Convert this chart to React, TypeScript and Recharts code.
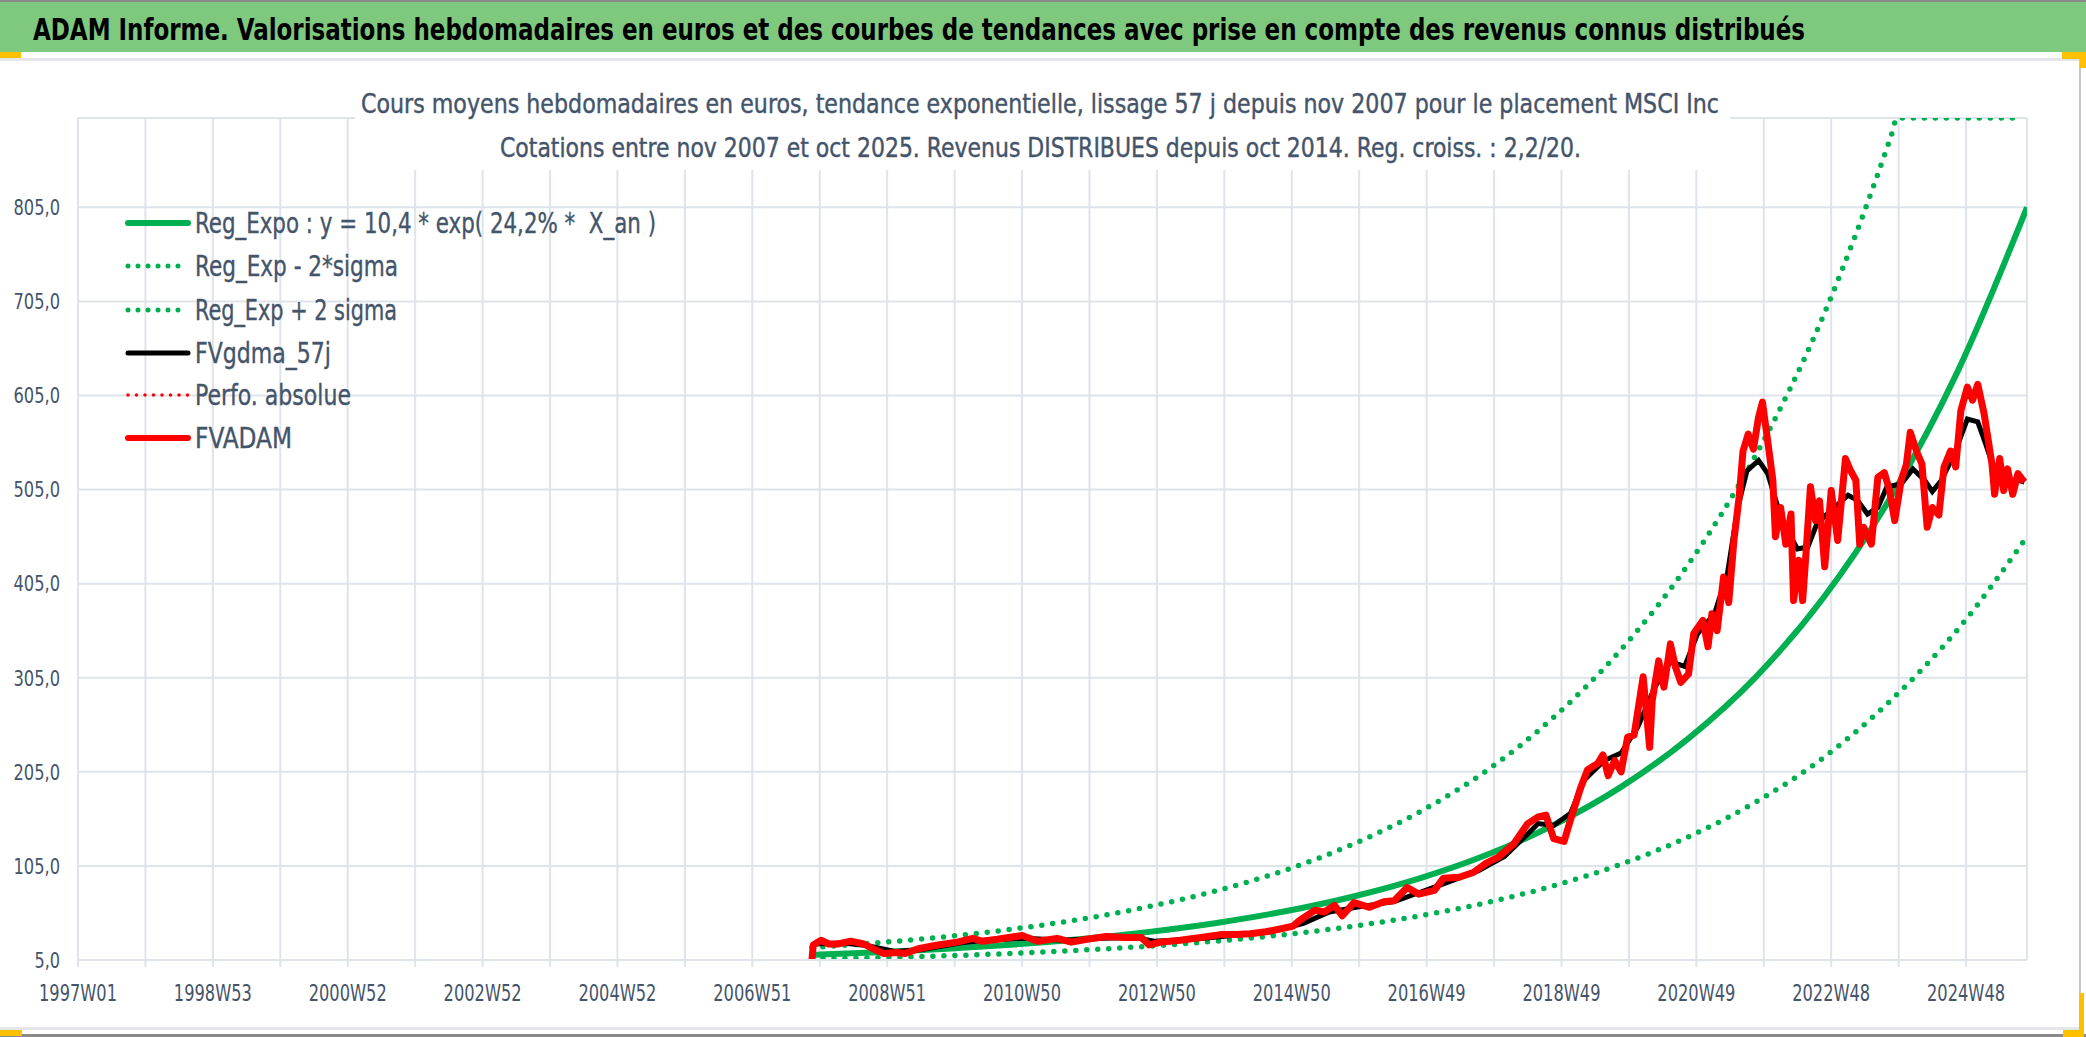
import React from "react";
import { LineChart, Line, XAxis, YAxis, CartesianGrid, Legend } from "recharts";

const FONT = '"Liberation Sans Narrow", "DejaVu Sans Condensed", "Open Sans", sans-serif';
const GREY_TEXT = "#44546a";
const GRID = "#dfe3ea";
const GREEN = "#00b050";
const RED = "#ff0000";

// x axis: week index since 1997W01, one gridline every 52 weeks
const WEEK_TICKS = [
  0, 52, 104, 156, 208, 260, 312, 364, 416, 468, 520, 572, 624, 676, 728,
  780, 832, 884, 936, 988, 1040, 1092, 1144, 1196, 1248, 1300, 1352, 1404, 1456,
];
const WEEK_LABELS = [
  "1997W01", "1998W53", "2000W52", "2002W52", "2004W52", "2006W51", "2008W51",
  "2010W50", "2012W50", "2014W50", "2016W49", "2018W49", "2020W49", "2022W48", "2024W48",
];
const Y_TICKS = [5, 105, 205, 305, 405, 505, 605, 705, 805];

// regression curves
const REG_WEEKS = [566, 618, 670, 722, 774, 826, 878, 930, 982, 1034, 1086, 1138, 1190, 1242, 1294, 1346, 1398, 1450, 1503];
const REG_EXPO = [10.4, 13.3, 16.9, 21.5, 27.4, 34.9, 44.4, 56.5, 72, 91.6, 116.6, 148.5, 189, 240.6, 306, 390, 497, 632, 805];
const REG_MINUS = [5.9, 7.5, 9.5, 12.1, 15.5, 19.7, 25.1, 31.9, 40.7, 51.8, 65.9, 83.9, 106.8, 136, 173, 220, 281, 357, 455];
const REG_PLUS_WEEKS = [566, 618, 670, 722, 774, 826, 878, 930, 982, 1034, 1086, 1138, 1190, 1242, 1294, 1346, 1372, 1398, 1403, 1499];
const REG_PLUS = [18.4, 23.5, 29.9, 38.1, 48.5, 61.8, 78.6, 100, 127.4, 162, 206, 263, 335, 426, 542, 690, 780, 880, 900, 900];

// FVADAM (weekly valuation)
const FV_WEEKS = [
  566, 567, 573, 579, 586, 596, 606, 613, 621, 632, 638, 648, 663, 678, 690, 697, 709, 728, 740, 755,
  766, 778, 793, 808, 820, 826, 835, 850, 866, 881, 893, 904, 916, 927, 937, 942, 954, 961, 969, 975,
  984, 996, 1007, 1015, 1025, 1034, 1046, 1053, 1065, 1076, 1086, 1095, 1107, 1118, 1126, 1132, 1138, 1146, 1151, 1159,
  1164, 1172, 1176, 1180, 1185, 1190, 1195, 1200, 1207, 1212, 1214, 1219, 1223, 1228, 1232, 1236, 1242, 1246, 1253, 1257,
  1260, 1264, 1269, 1273, 1277, 1281, 1284, 1288, 1292, 1296, 1299, 1303, 1307, 1309, 1313, 1317, 1321, 1323, 1327, 1330,
  1332, 1336, 1340, 1343, 1347, 1352, 1357, 1363, 1367, 1371, 1374, 1377, 1383, 1388, 1393, 1397, 1401, 1406, 1410, 1413,
  1418, 1422, 1426, 1430, 1435, 1439, 1444, 1448, 1452, 1457, 1461, 1465, 1470, 1476, 1478, 1482, 1485, 1488, 1492, 1496,
  1501,
];
const FVADAM = [
  5, 21, 26, 22, 22, 25, 22, 17, 12, 13, 12, 17, 21, 24, 28, 25, 27, 31, 25, 28,
  24, 27, 30, 29, 29, 21, 24, 26, 29, 32, 32, 33, 35, 38, 41, 47, 58, 56, 63, 52,
  66, 61, 67, 68, 82, 75, 79, 92, 93, 98, 108, 114, 128, 150, 157, 159, 134, 131, 154, 189,
  207, 214, 223, 201, 217, 205, 242, 244, 306, 231, 281, 323, 295, 341, 316, 300, 309, 352, 366, 338,
  373, 355, 412, 385, 451, 497, 546, 564, 548, 582, 598, 557, 515, 455, 486, 447, 479, 387, 430, 387,
  426, 508, 472, 493, 423, 504, 451, 538, 525, 515, 447, 465, 447, 518, 523, 504, 472, 515, 532, 566,
  545, 532, 465, 486, 478, 529, 546, 529, 589, 614, 600, 617, 585, 532, 500, 538, 504, 527, 500, 522,
  513,
];

// FVgdma_57j (smoothed)
const GDMA_WEEKS = [
  567, 590, 610, 630, 650, 680, 700, 730, 760, 790, 815, 830, 860, 890, 920, 945, 965, 990, 1015, 1035,
  1055, 1080, 1100, 1115, 1126, 1138, 1151, 1162, 1177, 1190, 1203, 1216, 1228, 1239, 1249, 1262, 1272, 1280, 1287, 1296,
  1303, 1311, 1318, 1326, 1334, 1341, 1352, 1365, 1372, 1380, 1388, 1395, 1406, 1415, 1424, 1430, 1437, 1447, 1457, 1465,
  1471, 1478, 1485, 1496, 1501,
];
const GDMA = [
  22, 23, 20, 14, 16, 23, 26, 28, 26, 28, 29, 25, 27, 31, 35, 44, 56, 62, 67, 77,
  87, 100, 115, 135, 150, 148, 161, 197, 217, 225, 253, 295, 322, 317, 352, 373, 416, 486, 525, 536,
  522, 486, 462, 442, 444, 469, 483, 499, 494, 479, 486, 508, 511, 527, 515, 503, 515, 543, 580, 577,
  554, 525, 515, 515, 513,
];

const LEGEND_ITEMS = [
  { name: "Reg_Expo : y = 10,4 * exp( 24,2% *  X_an )", len: 461, color: GREEN, width: 6, dash: "" },
  { name: "Reg_Exp - 2*sigma", len: 203, color: GREEN, width: 5, dash: "0 10" },
  { name: "Reg_Exp + 2 sigma", len: 202, color: GREEN, width: 5, dash: "0 10" },
  { name: "FVgdma_57j", len: 136, color: "#000000", width: 5, dash: "" },
  { name: "Perfo. absolue", len: 156, color: RED, width: 3.5, dash: "0 8.5" },
  { name: "FVADAM", len: 97, color: RED, width: 6, dash: "" },
];
const LEGEND_ROWS = [23, 66, 110, 153, 195, 238];

const toPoints = (xs: number[], ys: number[]) => xs.map((w, i) => ({ w, v: ys[i] }));

function weekLabel(w: number) {
  const i = WEEK_TICKS.indexOf(w);
  return i % 2 === 0 ? WEEK_LABELS[i / 2] : "";
}

function XTick(props: any) {
  const label = weekLabel(props.payload.value);
  if (!label) return <g />;
  return (
    <text
      x={props.x}
      y={props.y}
      dy="0.71em"
      textAnchor="middle"
      fontFamily={FONT}
      fontSize={23}
      fill={GREY_TEXT}
      textLength={78}
      lengthAdjust="spacingAndGlyphs"
    >
      {label}
    </text>
  );
}

function YTick(props: any) {
  const label = Number(props.payload.value).toFixed(1).replace(".", ",");
  const digits = label.length - 1;
  return (
    <text
      x={props.x}
      y={props.y}
      dy="0.355em"
      textAnchor="end"
      fontFamily={FONT}
      fontSize={22}
      fill={GREY_TEXT}
      textLength={digits * 10.5 + 4.5}
      lengthAdjust="spacingAndGlyphs"
    >
      {label}
    </text>
  );
}

function ChartLegend() {
  return (
    <svg width={800} height={262} style={{ display: "block" }}>
      {LEGEND_ITEMS.map((it, i) => (
        <g key={it.name}>
          <line
            x1={5}
            y1={LEGEND_ROWS[i]}
            x2={65}
            y2={LEGEND_ROWS[i]}
            stroke={it.color}
            strokeWidth={it.width}
            strokeDasharray={it.dash || undefined}
            strokeLinecap="round"
          />
          <text
            transform={`translate(72 ${LEGEND_ROWS[i] + 10}) scale(1 1.2)`}
            fontFamily={FONT}
            fontSize={24}
            fill={GREY_TEXT}
            stroke={GREY_TEXT}
            strokeWidth={0.3}
            textLength={it.len}
            lengthAdjust="spacingAndGlyphs"
            style={{ whiteSpace: "pre" }}
          >
            {it.name}
          </text>
        </g>
      ))}
    </svg>
  );
}

export default function App() {
  const reg = toPoints(REG_WEEKS, REG_EXPO);
  const regMinus = toPoints(REG_WEEKS, REG_MINUS);
  const regPlus = toPoints(REG_PLUS_WEEKS, REG_PLUS);
  const gdma = toPoints(GDMA_WEEKS, GDMA);
  const fv = toPoints(FV_WEEKS, FVADAM);

  return (
    <div
      style={{
        position: "absolute",
        left: 0,
        top: 0,
        width: 2086,
        height: 1037,
        overflow: "hidden",
        background: "#fff",
        fontFamily: FONT,
      }}
    >
      {/* frame decorations */}
      <div style={{ position: "absolute", left: 0, top: 0, width: 2086, height: 52, background: "#7fc97f", borderTop: "2px solid #8a8a8a", boxSizing: "border-box" }} />
      <div style={{ position: "absolute", left: 0, top: 58, width: 2080, height: 3, background: "#e4e6ea" }} />
      <div style={{ position: "absolute", left: 0, top: 1027, width: 2080, height: 3, background: "#e4e6ea" }} />
      <div style={{ position: "absolute", left: 0, top: 1034, width: 2086, height: 3, background: "#8a8a8a" }} />
      <div style={{ position: "absolute", left: 2079, top: 52, width: 2, height: 980, background: "#c8c8c8" }} />
      <div style={{ position: "absolute", left: 0, top: 52, width: 21, height: 6, background: "#ffc000" }} />
      <div style={{ position: "absolute", left: 2062, top: 52, width: 24, height: 7, background: "#ffc000" }} />
      <div style={{ position: "absolute", left: 2080, top: 52, width: 6, height: 16, background: "#ffc000" }} />
      <div style={{ position: "absolute", left: 0, top: 1030, width: 22, height: 6, background: "#ffc000" }} />
      <div style={{ position: "absolute", left: 2063, top: 1030, width: 20, height: 7, background: "#ffc000" }} />
      <div style={{ position: "absolute", left: 2079, top: 993, width: 5, height: 44, background: "#ffc000" }} />

      <div style={{ position: "absolute", left: 0, top: 0 }}>
        <LineChart width={2086} height={1037} margin={{ top: 118, right: 59, bottom: 17, left: 8 }}>
          <CartesianGrid stroke={GRID} strokeWidth={2} />
          <XAxis
            dataKey="w"
            type="number"
            domain={[0, 1503]}
            ticks={WEEK_TICKS}
            interval={0}
            height={60}
            axisLine={{ stroke: GRID, strokeWidth: 2 }}
            tickLine={{ stroke: GRID, strokeWidth: 2 }}
            tickSize={7}
            tickMargin={18}
            tick={<XTick />}
            allowDataOverflow
          />
          <YAxis
            type="number"
            domain={[5, 900]}
            ticks={Y_TICKS}
            width={70}
            axisLine={false}
            tickLine={false}
            tickSize={0}
            tickMargin={18}
            tick={<YTick />}
            allowDataOverflow
          />
          <Legend
            layout="horizontal"
            verticalAlign="middle"
            align="center"
            wrapperStyle={{ left: 123, top: 200, width: 800, height: 262 }}
            content={() => <ChartLegend />}
          />
          <Line data={reg} dataKey="v" type="monotone" stroke={GREEN} strokeWidth={6} dot={false} isAnimationActive={false} />
          <Line data={regMinus} dataKey="v" type="monotone" stroke={GREEN} strokeWidth={5.5} strokeDasharray="0 11" strokeLinecap="round" dot={false} isAnimationActive={false} />
          <Line data={regPlus} dataKey="v" type="monotone" stroke={GREEN} strokeWidth={5.5} strokeDasharray="0 11" strokeLinecap="round" dot={false} isAnimationActive={false} />
          <Line data={gdma} dataKey="v" type="linear" stroke="#000000" strokeWidth={5} dot={false} isAnimationActive={false} />
          <Line data={fv} dataKey="v" type="linear" stroke={RED} strokeWidth={7} strokeLinejoin="round" dot={false} isAnimationActive={false} />
        </LineChart>
      </div>

      {/* titles */}
      <svg width={2086} height={180} style={{ position: "absolute", left: 0, top: 0, pointerEvents: "none" }}>
        <text
          transform="translate(33 40) scale(1 1.28)"
          fontFamily={FONT}
          fontSize={24}
          fontWeight="bold"
          fill="#000"
          textLength={1772}
          lengthAdjust="spacingAndGlyphs"
        >
          ADAM Informe. Valorisations hebdomadaires en euros et des courbes de tendances avec prise en compte des revenus connus distribués
        </text>
        <rect x={355} y={78} width={1375} height={92} fill="#fff" />
        <text x={361} y={113} fontFamily={FONT} fontSize={27} fill={GREY_TEXT} stroke={GREY_TEXT} strokeWidth={0.4} textLength={1358} lengthAdjust="spacingAndGlyphs">
          Cours moyens hebdomadaires en euros, tendance exponentielle, lissage 57 j depuis nov 2007 pour le placement MSCI Inc
        </text>
        <text x={500} y={157} fontFamily={FONT} fontSize={27} fill={GREY_TEXT} stroke={GREY_TEXT} strokeWidth={0.4} textLength={1081} lengthAdjust="spacingAndGlyphs">
          Cotations entre nov 2007 et oct 2025. Revenus DISTRIBUES depuis oct 2014. Reg. croiss. : 2,2/20.
        </text>
      </svg>
    </div>
  );
}
